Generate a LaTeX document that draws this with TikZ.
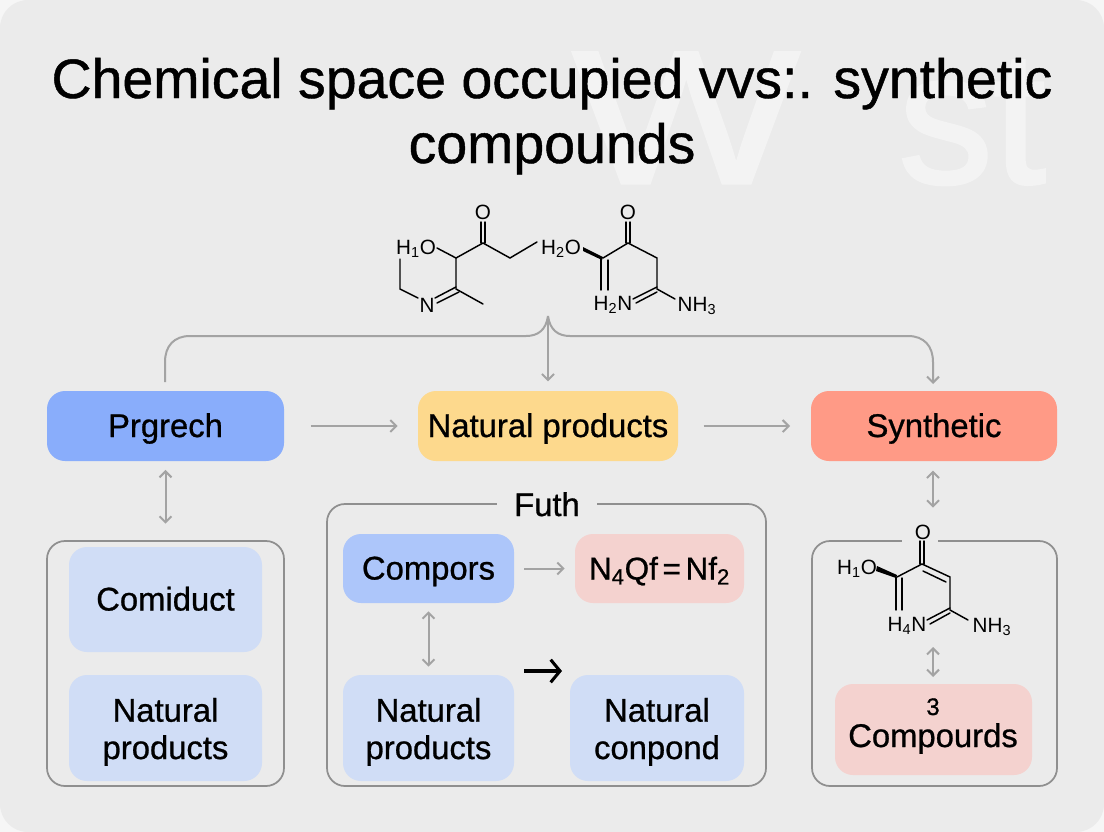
\documentclass[tikz,border=0pt]{standalone}
\usepackage{fontspec}
\setmainfont{Liberation Sans}
\newfontfamily\medf[FakeBold=0.8]{Liberation Sans}
\newfontfamily\heavyf[FakeBold=1.6]{Liberation Sans}
\usetikzlibrary{arrows.meta}
\definecolor{bgc}{HTML}{EBEBEB}
\definecolor{cornerc}{HTML}{F6F6F6}
\definecolor{ghostc}{HTML}{F3F3F3}
\definecolor{linec}{HTML}{A3A3A3}
\definecolor{framec}{HTML}{8F8F8F}
\definecolor{bluec}{HTML}{89ADFB}
\definecolor{yellowc}{HTML}{FDD98D}
\definecolor{redc}{HTML}{FF9A86}
\definecolor{midblue}{HTML}{ADC6FA}
\definecolor{paleblue}{HTML}{D0DDF6}
\definecolor{palered}{HTML}{F4D2CF}
\def\u{0.75pt}
\newcommand{\chemsub}[1]{\textsubscript{#1}}
\tikzset{
  x=0.75pt,y=-0.75pt,
  box/.style={rounded corners=13.5pt,inner sep=0pt,align=center,font=\medf\fontsize{24.6pt}{28pt}\selectfont,text=black},
  one/.style={text height=16.5pt,text depth=0pt},
  two/.style={text height=46.5pt,text depth=0pt},
  frame/.style={draw=framec,line width=1.3pt,rounded corners=13.5pt},
  arr/.style={draw=linec,line width=1.5pt,-{Straight Barb[length=4.5pt,width=9pt,line width=1.5pt]}},
  darr/.style={draw=linec,line width=1.5pt,{Straight Barb[length=4.5pt,width=9pt,line width=1.5pt]}-{Straight Barb[length=4.5pt,width=9pt,line width=1.5pt]}},
  bond/.style={draw=black,line width=1.1pt,line cap=round},
  atom/.style={inner sep=0pt,font=\fontsize{15.5pt}{18pt}\selectfont,text=black},
  ghost/.style={inner sep=0pt,text=ghostc,font=\heavyf\fontsize{142pt}{142pt}\selectfont,anchor=base},
  ttl/.style={inner sep=0pt,font=\medf\fontsize{41.6pt}{48pt}\selectfont,text=black,anchor=base},
}
\begin{document}
\begin{tikzpicture}
\useasboundingbox (0,0) rectangle (1104,832);
\fill[cornerc] (0,0) rectangle (1104,832);
\fill[bgc,rounded corners=21pt] (0,0) rectangle (1104,832);
% ghost letters
\node[ghost,xscale=1.27] (ghostw) at (686,183) {W};
\node[ghost] (ghosts) at (972,183) {st};
% title
\node[ttl] (title1) at (552,98) {Chemical space occupied vvs:. synthetic};
\node[ttl] (title2) at (552,163) {compounds};
% frames
\draw[frame] (47,541) rectangle (284,786);
\draw[frame] (327,504) rectangle (766,786);
\draw[frame] (812,541) rectangle (1057,786);
\node[fill=bgc,inner sep=0pt,minimum width=100*\u,minimum height=12*\u] (futhgap) at (547,504) {};
\node[inner sep=0pt,font=\medf\fontsize{24.6pt}{28pt}\selectfont,text=black,anchor=base] (futh) at (547,516) {Futh};
\node[fill=bgc,inner sep=0pt,minimum width=36*\u,minimum height=8*\u] (ogap) at (920,541) {};
% top boxes
\node[box,one,fill=bluec,minimum width=237*\u,minimum height=70*\u] (prg) at (165.5,426) {Prgrech};
\node[box,one,fill=yellowc,minimum width=260*\u,minimum height=70*\u] (nat) at (548,426) {Natural products};
\node[box,one,fill=redc,minimum width=246*\u,minimum height=70*\u] (syn) at (934,426) {Synthetic};
% left inner
\node[box,one,fill=paleblue,minimum width=193*\u,minimum height=105*\u] (com) at (165.5,599.5) {Comiduct};
\node[box,two,fill=paleblue,minimum width=193*\u,minimum height=106*\u] (np1) at (165.5,728) {Natural\\products};
% center inner
\node[box,one,fill=midblue,minimum width=171*\u,minimum height=69*\u] (cmp) at (428.5,568.5) {Compors};
\node[box,one,fill=palered,minimum width=169*\u,minimum height=69*\u,font=\medf\fontsize{23.6pt}{28pt}\selectfont] (nqf) at (659.5,568.5) {N\chemsub{4}Qf\hspace{3.5pt}=\hspace{3.5pt}Nf\chemsub{2}};
\node[box,two,fill=paleblue,minimum width=171*\u,minimum height=106*\u] (np2) at (428.5,728) {Natural\\products};
\node[box,two,fill=paleblue,minimum width=174*\u,minimum height=106*\u] (ncp) at (657,728) {Natural\\conpond};
% right inner
\node[box,fill=palered,minimum width=197*\u,minimum height=91*\u] (cpd) at (933.5,729.5) {};
\node[inner sep=0pt,font=\medf\fontsize{18pt}{20pt}\selectfont,anchor=base] (three) at (933,715) {3};
\node[inner sep=0pt,font=\medf\fontsize{24.6pt}{28pt}\selectfont,anchor=base] (cpdt) at (933,747) {Compourds};
% connectors
\draw[arr,shorten <=20pt,shorten >=15pt] (prg.east) -- (nat.west);
\draw[arr,shorten <=19pt,shorten >=15.5pt] (nat.east) -- (syn.west);
\draw[arr,shorten <=7.5pt,shorten >=7.5pt] (cmp.east) -- (nqf.west);
\draw[darr,shorten <=6.5pt,shorten >=13pt] (prg.south) -- (prg.south |- 0,541);
\draw[darr,shorten <=7pt,shorten >=25pt] (syn.south -| 933,0) -- (933,541);
\draw[darr,shorten <=6pt,shorten >=6pt] (cmp.south) -- (np2.north);
\coordinate (bk1) at (524,671);
\coordinate (bk2) at (562,671);
\draw[black,line width=2.3pt,-{Straight Barb[length=7pt,width=17pt,line width=2.3pt]}] (bk1) -- (bk2);
% brace connector
\coordinate (apex) at (548,316);
\coordinate (lstart) at (165,382);
\draw[linec,line width=1.5pt] (lstart) -- (165,362) .. controls (165,346) and (174,336) .. (190,336) -- (526,336) .. controls (538,336) and (546,330) .. (apex);
\draw[arr] (apex) .. controls (550,330) and (558,336) .. (570,336) -- (908,336) .. controls (924,336) and (933,346) .. (933,362) -- (933,384);
\draw[arr,shorten >=7pt] (apex) -- (nat.north);
% molecule 1
\node[atom] (a1) at (416,249) {H\chemsub{1}O};
\node[atom] (a2) at (483,212) {O};
\node[atom] (a3) at (427,305) {N};
\coordinate (m1) at (456,258);
\coordinate (m2) at (483,243);
\coordinate (m3) at (510,258);
\coordinate (m4) at (537,242);
\coordinate (m5) at (456,289);
\coordinate (m6) at (483,304);
\coordinate (m7) at (400,289);
\coordinate (m8) at (400,259);
\draw[bond] (437,248) -- (m1) -- (m2) -- (m3) -- (m4);
\draw[bond] (m1) -- (m5) -- (m6);
\draw[bond] (481,243) -- (481,222) (485,243) -- (485,222);
\draw[bond] (456,287) -- (435,298) (459,292) -- (437,303);
\draw[bond] (418,298) -- (m7) -- (m8);
% molecule 2
\node[atom] (b1) at (561,249) {H\chemsub{2}O};
\node[atom] (b2) at (628,212) {O};
\node[atom] (b3) at (613,305) {H\chemsub{2}N};
\node[atom] (b4) at (697,306) {NH\chemsub{3}};
\coordinate (n1) at (603,258);
\coordinate (n2) at (628,243);
\coordinate (n3) at (657,258);
\coordinate (n4) at (657,289);
\fill[black] (583,247) -- (603,257) -- (602,260) -- (583,251) -- cycle;
\draw[bond] (n1) -- (n2) -- (n3) -- (n4) -- (675,299);
\draw[bond] (626,243) -- (626,222) (630,243) -- (630,222);
\draw[bond] (601,258) -- (601,290) (608,260) -- (608,290);
\draw[bond] (657,287) -- (633,299) (657,292) -- (636,303);
% molecule 3
\node[atom] (c0) at (923,532) {O};
\node[atom] (c1) at (857,569) {H\chemsub{1}O};
\node[atom] (c2) at (907,626) {H\chemsub{4}N};
\node[atom] (c3) at (992,627) {NH\chemsub{3}};
\coordinate (p1) at (922,564);
\coordinate (p2) at (897,577);
\coordinate (p3) at (950,577);
\coordinate (p4) at (950,610);
\draw[bond] (p2) -- (p1) -- (p3) -- (p4) -- (968,620);
\draw[bond] (920,564) -- (920,541) (924,564) -- (924,541);
\fill[black] (877,566) -- (897,575) -- (896,578) -- (876,571) -- cycle;
\draw[bond] (896,577) -- (896,610) (902,578) -- (902,610);
\draw[bond] (923,571) -- (946,582);
\draw[bond] (950,608) -- (927,620) (950,613) -- (930,624);
\draw[darr] (933,647) -- (933,677);
\end{tikzpicture}
\end{document}
